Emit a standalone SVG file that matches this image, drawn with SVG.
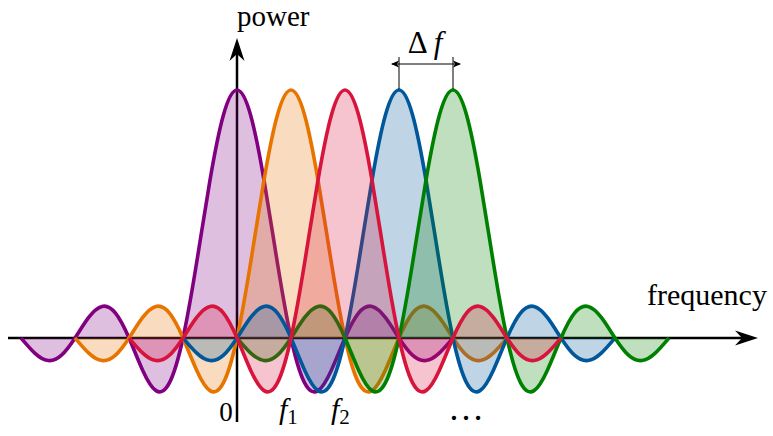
<svg xmlns="http://www.w3.org/2000/svg" xmlns:xlink="http://www.w3.org/1999/xlink" width="773" height="436" viewBox="0 0 773 436">
<style>
  .lbl { font-family: "Liberation Serif", "DejaVu Serif", serif; fill: #000; }
  .ax { stroke: #000; stroke-width: 2.5; fill: none; }
  .dim { stroke: #000; stroke-width: 1; fill: none; }
  .sinc { stroke-width: 3.6; stroke-linejoin: round; fill-opacity: 0.25; }
</style>
<defs>
  <path id="sinc" d="M-216,0 C-211.5,5.17 -207,10.65 -202.5,14.88 C-198,19.11 -193.5,22.02 -189,22.56 C-184.5,23.1 -180,21.24 -175.5,17.18 C-171,13.12 -166.5,6.89 -162,0 C-157.5,-6.89 -153,-14.37 -148.5,-20.3 C-144,-26.23 -139.5,-30.53 -135,-31.58 C-130.5,-32.63 -126,-30.39 -121.5,-24.81 C-117,-19.23 -112.5,-10.33 -108,0 C-103.5,10.33 -99,22.03 -94.5,31.9 C-90,41.77 -85.5,49.71 -81,52.63 C-76.5,55.55 -72,53.37 -67.5,44.66 C-63,35.95 -58.5,20.67 -54,0 C-49.5,-20.67 -45,-46.68 -40.5,-74.43 C-36,-102.18 -31.5,-131.57 -27,-157.88 C-22.5,-184.19 -18,-207.31 -13.5,-223.28 C-9,-239.25 -4.5,-248 0,-248 C4.5,-248 9,-239.25 13.5,-223.28 C18,-207.31 22.5,-184.19 27,-157.88 C31.5,-131.57 36,-102.18 40.5,-74.43 C45,-46.68 49.5,-20.67 54,0 C58.5,20.67 63,35.95 67.5,44.66 C72,53.37 76.5,55.55 81,52.63 C85.5,49.71 90,41.77 94.5,31.9 C99,22.03 103.5,10.33 108,0 C112.5,-10.33 117,-19.23 121.5,-24.81 C126,-30.39 130.5,-32.63 135,-31.58 C139.5,-30.53 144,-26.23 148.5,-20.3 C153,-14.37 157.5,-6.89 162,0 C166.5,6.89 171,13.12 175.5,17.18 C180,21.24 184.5,23.1 189,22.56 C193.5,22.02 198,19.11 202.5,14.88 C207,10.65 211.5,5.17 216,0"/>
</defs>
<rect width="773" height="436" fill="#fff"/>

<g id="axes">
  <line class="ax" x1="8" y1="338" x2="745" y2="338"/>
  <path d="M758,338 L735,330.5 L742,338 L735,345.5 Z" fill="#000"/>
  <line class="ax" x1="237" y1="422" x2="237" y2="50"/>
  <path d="M237,38 L229.5,61 L237,54 L244.5,61 Z" fill="#000"/>
</g>

<g id="carrier-purple"><use xlink:href="#sinc" class="sinc" transform="translate(237,338)" fill="#800080" stroke="#800080"/></g>
<g id="carrier-orange"><use xlink:href="#sinc" class="sinc" transform="translate(291,338)" fill="#E87400" stroke="#E87400"/></g>
<g id="carrier-blue"><use xlink:href="#sinc" class="sinc" transform="translate(399,338)" fill="#00579A" stroke="#00579A"/></g>
<g id="carrier-green"><use xlink:href="#sinc" class="sinc" transform="translate(453,338)" fill="#008000" stroke="#008000"/></g>
<g id="carrier-red"><use xlink:href="#sinc" class="sinc" transform="translate(345,338)" fill="#D7143C" stroke="#D7143C"/></g>

<g id="delta-f">
  <line class="dim" x1="399" y1="57" x2="399" y2="89"/>
  <line class="dim" x1="453" y1="57" x2="453" y2="89"/>
  <line class="dim" x1="392" y1="64" x2="460" y2="64"/>
  <path d="M391,64 L399,60.5 L397,64 L399,67.5 Z" fill="#000"/>
  <path d="M461,64 L453,60.5 L455,64 L453,67.5 Z" fill="#000"/>
  <text class="lbl" x="425" y="53" font-size="31" text-anchor="middle">Δ <tspan font-style="italic">f</tspan></text>
</g>

<g id="labels">
  <text class="lbl" x="237" y="26" font-size="29">power</text>
  <text class="lbl" x="647" y="305" font-size="30">frequency</text>
  <text class="lbl" x="226" y="421" font-size="27" text-anchor="middle">0</text>
  <text class="lbl" x="279" y="419" font-size="30" font-style="italic">f<tspan font-style="normal" font-size="21" dy="5">1</tspan></text>
  <text class="lbl" x="331" y="419" font-size="30" font-style="italic">f<tspan font-style="normal" font-size="21" dy="5">2</tspan></text>
  <text class="lbl" x="466" y="420" font-size="36" text-anchor="middle">…</text>
</g>
</svg>
